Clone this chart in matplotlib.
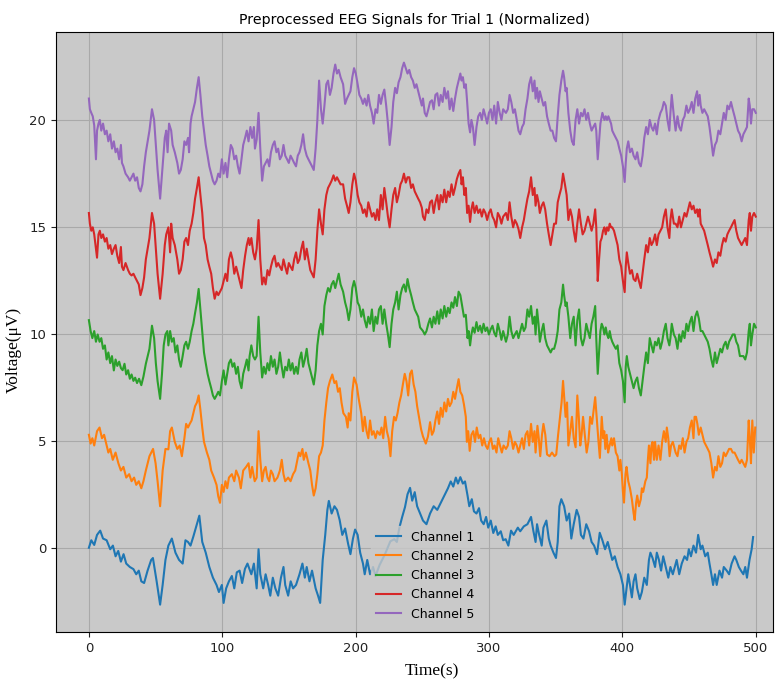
import matplotlib
matplotlib.use("Agg")
import matplotlib.pyplot as plt

# (time, normalized voltage) samples per channel; each channel sits on its own 5 uV baseline
CH1 = [(0,0.0),(1.8,0.35),(4,0.13),(6.1,0.6),(8.5,0.8),(10.6,0.43),(13.3,0.35),(16,-0.07),(18,0.1),(20,-0.4),(22,-0.15),(24,-0.65),(26,-0.3),(28,-0.74),(30.7,-0.9),(33.4,-1.0),(35.5,-1.24),(37.4,-1.07),(39.3,-1.57),(41.4,-1.65),(44,-1.07),(46.7,-0.57),(48,-0.48),(50.8,-1.57),(53.4,-2.66),(55.3,-1.74),(57.4,-0.57),(59.6,0.1),(62.2,0.43),(64.9,-0.23),(67.6,-0.57),(70.3,-0.74),(72.4,0.35),(74.3,0.27),(76.2,0.1),(78.3,0.52),(81,1.1),(82.8,1.5),(85,0.27),(87.6,-0.23),(90.3,-0.9),(93,-1.4),(95.7,-1.74),(97.5,-2.07),(99.7,-1.74),(101,-2.58),(102.9,-1.9),(105,-1.57),(107.2,-1.32),(109,-1.9),(110.9,-1.15),(113,-1.07),(114.9,-1.65),(117,-0.99),(118.9,-0.74),(121.8,-1.24),(123.7,-0.74),(125.8,-1.9),(127.2,-0.07),(128.5,-1.24),(130.7,-1.9),(132.5,-1.24),(134.4,-1.74),(136,-2.24),(137.9,-1.4),(139.8,-1.9),(141.9,-2.24),(144,-1.4),(145.9,-0.9),(147.2,-1.74),(149.4,-2.24),(151.3,-1.57),(153.1,-1.9),(155.3,-1.74),(157.9,-1.24),(160.1,-0.74),(161.9,-1.4),(163.3,-0.9),(165.4,-1.57),(167.3,-1.07),(170,-1.9),(171.8,-2.24),(173.4,-2.58),(175.3,-0.57),(177.2,0.6),(178.8,1.77),(179.9,2.19),(182,1.6),(184.1,1.94),(186,1.77),(188,1.3),(190,0.6),(192.1,0.9),(194.3,0.2),(196.1,-0.3),(198,0.43),(199.6,0.85),(201.5,0.6),(203.4,-0.23),(205.5,-0.74),(206.8,-1.24),(208.7,-0.57),(210.8,-1.24),(213,-0.9),(214.9,-1.32),(218,-0.8),(222,-0.3),(226,0.3),(229,0.4),(230.9,0.27),(232.8,0.94),(234.9,1.44),(237,1.9),(238.9,2.5),(240.8,2.8),(242.4,2.2),(244.3,2.6),(246.1,1.94),(248.3,1.6),(250.5,1.27),(253.1,1.1),(255.8,1.6),(258.5,1.94),(261.2,1.77),(263.8,2.1),(266.5,2.44),(269.2,2.78),(271.3,3.1),(273.2,2.86),(275.1,3.28),(276.7,3.0),(278.5,3.3),(280.4,3.0),(282,3.1),(283.9,2.44),(285.2,1.94),(287.1,2.27),(288.7,1.7),(290.6,1.6),(292.5,1.85),(294.1,1.27),(296,1.1),(297.8,1.44),(299.4,0.94),(301.3,1.27),(303.2,0.69),(305,1.0),(306.6,0.6),(308.8,0.77),(310.6,0.35),(312.5,0.4),(314.5,0.1),(316.5,0.8),(318.5,0.6),(321.6,0.94),(323.4,0.77),(326.1,1.0),(328.8,1.1),(331.5,1.44),(333.3,0.77),(334.9,0.27),(336,1.1),(337.6,0.6),(339.5,0.1),(340.8,0.94),(343,1.27),(344.8,0.43),(346.2,0.1),(348.3,-0.23),(350.2,-0.48),(351.5,0.27),(352.8,1.94),(354.2,2.27),(356.3,1.94),(358.2,1.27),(360.1,1.6),(361.7,0.43),(363.5,1.1),(365.7,1.77),(367.5,1.44),(368.9,0.6),(370.8,0.43),(372.9,1.1),(375,0.77),(376.9,0.27),(378.8,0.1),(381,-0.3),(383,0.7),(385,0.35),(387,-0.07),(389,0.27),(391,-0.23),(392.4,-0.57),(394.3,-0.4),(396.4,-0.9),(398.5,-1.24),(400.4,-1.74),(401.7,-2.66),(403.1,-1.9),(404.4,-1.24),(405.7,-1.74),(407.1,-2.32),(408.4,-1.57),(409.8,-1.24),(411.1,-1.9),(413,-2.4),(414.6,-2.07),(416.4,-1.4),(418.3,-1.74),(419.9,-0.57),(421,-0.23),(422.6,-0.48),(424.5,-0.9),(425.8,-0.23),(427.4,-0.57),(429,-1.07),(430.6,-0.4),(432.5,-0.9),(434.4,-1.4),(436,-0.9),(437.8,-1.24),(440.7,-0.57),(442.6,-1.24),(444.5,-0.74),(446.6,-0.4),(448.5,-0.57),(449.8,-0.07),(451.4,-0.4),(453.3,0.1),(455.2,-0.23),(456.8,0.6),(458.7,-0.07),(460,0.1),(462.1,-0.4),(464,-0.23),(465.3,-0.74),(466.7,-1.24),(468,-1.74),(469.4,-1.24),(470.7,-1.74),(472.8,-1.07),(474.7,-1.4),(476,-0.9),(478.2,-1.07),(480,-1.24),(481.9,-0.74),(484.1,-0.4),(485.4,-0.57),(487.3,-0.9),(488.9,-1.07),(490.7,-1.24),(492.1,-0.9),(493.4,-1.4),(495.3,-0.57),(496.9,-0.07),(498,0.5)]

CH2 = [(0,5.28),(1.3,4.87),(2.6,5.12),(4,4.78),(6.1,5.45),(8,5.62),(9.8,5.12),(11.4,5.28),(13.3,4.78),(14.6,4.45),(16,4.62),(17.9,4.11),(20,4.45),(22.1,3.95),(24,3.61),(25.9,3.78),(28,3.28),(30.2,3.44),(32,3.11),(33.9,3.28),(35.5,2.94),(37.4,3.11),(39.3,2.78),(40.9,3.11),(42.7,3.61),(45.4,4.28),(48.1,4.62),(50,3.95),(51.5,3.11),(53.4,1.94),(55.3,3.61),(57.4,4.62),(59.6,4.6),(60.9,5.45),(62.2,5.62),(64.4,4.95),(66.3,4.62),(68.1,4.78),(69.7,4.28),(71.6,5.12),(72.9,5.79),(74.3,5.62),(75.6,5.79),(77,5.95),(78.3,6.29),(79.6,6.62),(81,6.79),(82.3,7.12),(83.6,6.45),(85,5.62),(86.3,4.95),(88.5,4.45),(90.3,4.11),(91.7,3.61),(93.8,3.28),(95.7,2.94),(97,2.4),(98.3,2.1),(99.7,2.94),(101,2.61),(102.4,3.11),(103.7,2.78),(105,3.28),(107.2,3.44),(109,3.11),(110.4,3.61),(112.5,3.28),(113.9,2.78),(115.7,3.61),(117.9,3.78),(119.7,3.95),(121.1,3.28),(122.4,3.78),(124.3,3.11),(125.8,3.28),(127.2,5.45),(128.5,4.11),(129.9,3.11),(131.2,3.61),(132.5,3.78),(133.9,3.28),(135.2,3.11),(136.5,3.61),(137.9,3.44),(139.2,3.11),(141.4,3.28),(143.2,3.61),(144.6,4.11),(145.9,3.44),(147.2,3.11),(149.4,3.28),(151.2,3.11),(153.1,3.44),(154.7,3.61),(155.8,3.95),(157.4,4.45),(158.5,4.28),(160.1,4.62),(161.1,4.11),(162.7,4.45),(164.6,3.95),(166,3.61),(167.3,2.94),(168.6,2.44),(170,2.78),(171.3,3.44),(172.6,4.28),(174,4.45),(175.3,4.78),(176.6,5.95),(178,6.79),(179.3,7.46),(180.7,7.79),(182.5,8.1),(184.1,7.7),(185.4,7.79),(186.8,7.29),(188.1,7.46),(189.4,6.79),(190.8,6.29),(192.7,6.12),(194,5.62),(194.8,6.29),(196.1,5.95),(197.5,7.29),(198.8,7.96),(200.7,7.63),(202.3,6.96),(204.2,6.29),(205.5,5.45),(206.8,6.12),(208.2,5.45),(209.5,5.12),(210.8,5.95),(212.2,5.28),(213.5,5.45),(214.9,5.12),(216.2,5.45),(218.1,5.28),(219.4,5.62),(220.7,5.12),(222.1,6.12),(223.4,5.45),(224.7,5.12),(226.1,4.28),(227.4,5.45),(228.8,6.12),(230.1,5.95),(231.4,6.29),(232.8,6.79),(234.1,7.12),(235.4,7.63),(236.8,8.13),(238.1,7.79),(239.4,7.12),(240.8,8.13),(242.1,8.29),(243.5,7.63),(244.8,7.29),(246.1,6.62),(247.5,6.12),(249.1,5.53),(250.5,5.2),(252.6,4.87),(254.2,5.2),(255.8,5.87),(257.2,5.28),(258.5,5.45),(259.8,5.95),(261.2,6.37),(262.5,5.79),(263.8,6.54),(265.2,6.12),(266.5,6.79),(267.9,6.37),(269.2,6.96),(270.5,6.62),(271.9,6.79),(273.2,7.29),(274.5,6.96),(275.9,7.46),(277.2,7.88),(278.5,7.29),(279.9,7.12),(281.2,6.7),(282.6,6.12),(283.4,4.95),(284.4,5.45),(285.5,4.53),(286.8,5.28),(288.2,5.45),(289.5,4.95),(290.8,5.62),(292.2,5.12),(293.5,5.28),(294.9,4.78),(296.2,5.12),(297.5,4.78),(298.9,4.62),(300.2,4.95),(301.5,5.12),(302.9,4.62),(304.2,4.78),(305.6,4.45),(306.9,5.12),(308.2,4.78),(309.6,4.45),(310.9,4.78),(312.7,4.62),(314.1,4.78),(315.4,5.45),(316.7,5.12),(318.1,4.62),(319.4,4.95),(320.8,4.78),(322.1,4.45),(323.4,4.78),(324.8,5.12),(326.1,4.62),(327.4,5.28),(328.8,5.45),(330.1,4.78),(331.5,5.79),(332.8,4.95),(334.1,5.45),(334.9,4.45),(336.3,5.7),(337.3,5.12),(338.4,4.28),(339.7,5.28),(340.8,5.79),(342.2,5.28),(343.5,4.36),(345.4,4.28),(347.2,4.45),(349.1,4.28),(350.4,4.36),(351.8,5.28),(353.1,6.04),(354.4,6.79),(355.5,7.8),(356.3,7.12),(357.4,6.12),(358.5,6.79),(359.5,4.78),(360.9,5.45),(362.2,6.12),(363.5,5.12),(364.9,4.7),(366.2,7.12),(367.3,6.12),(368.4,4.78),(369.4,5.28),(370.5,6.12),(371.8,5.28),(373.2,4.45),(374.5,4.95),(375.8,6.12),(377.2,5.79),(378.5,6.45),(379.6,7.04),(380.7,6.12),(382,5.03),(383.1,4.2),(384.5,6.12),(385.6,5.12),(386.4,5.45),(387.2,4.62),(388.2,5.28),(389.3,4.45),(390.4,4.78),(391.7,5.12),(392.4,4.78),(393.7,5.12),(395.1,4.45),(396.4,4.28),(397.7,3.61),(398.5,4.11),(399.6,3.44),(400.4,2.61),(401.2,2.11),(402.3,3.44),(403.1,3.78),(404.4,3.11),(405.7,2.78),(407.1,2.27),(408.4,1.61),(409.2,1.3),(410.3,2.11),(411.1,2.44),(412.4,1.94),(413.8,2.27),(414.6,2.78),(415.6,2.61),(417.2,3.11),(418.3,3.28),(419.1,4.11),(419.9,4.78),(421,3.95),(421.8,4.78),(422.6,4.95),(423.7,4.11),(424.5,4.95),(425.8,4.11),(427.1,4.78),(428.5,4.11),(429.8,4.95),(431.1,5.45),(432.5,4.95),(433.3,5.62),(434.4,5.12),(435.4,4.28),(436.5,4.78),(437.8,4.95),(439.9,4.45),(441.3,4.28),(442.6,4.78),(443.9,4.62),(445.3,5.12),(446.6,4.45),(448,4.95),(449.3,5.12),(450.6,5.62),(452,5.95),(453.3,5.12),(454.1,6.12),(455.2,6.12),(456.2,5.79),(457.3,5.28),(458.7,5.62),(460,5.28),(461.3,4.95),(462.7,4.78),(464,4.62),(465.3,4.45),(466.7,3.95),(468,3.28),(469.4,3.78),(470.7,3.61),(472,4.28),(473.4,3.78),(474.7,3.95),(476,4.45),(477.4,4.28),(478.7,4.45),(480,4.62),(481.4,4.62),(482.7,4.45),(484.1,4.45),(485.4,4.28),(486.7,4.11),(488.1,3.95),(489.4,4.11),(490.7,3.95),(492.1,3.78),(493.4,4.11),(494.7,5.95),(495.5,5.12),(496.4,3.95),(497.4,5.95),(498.5,4.45),(499.6,5.62)]

CH3 = [(0,10.64),(1.3,10.13),(2.6,9.8),(4,10.13),(5.3,9.63),(6.6,9.97),(8,9.63),(9.3,9.8),(10.6,9.3),(12,9.46),(13.3,8.8),(14.6,9.13),(16,8.63),(17.3,8.96),(18.7,8.29),(20,8.8),(21.3,8.5),(22.7,8.7),(24,8.4),(25.3,8.3),(26.7,8.6),(28,8.1),(29.4,8.3),(30.7,7.9),(32,8.1),(33.4,7.8),(34.7,7.95),(36.1,7.7),(37.6,7.9),(39.3,7.6),(40.9,8.0),(42.7,8.6),(45.4,9.3),(47.3,10.38),(48.9,9.8),(50.2,8.63),(51.5,7.79),(53.4,6.96),(54.8,8.13),(56.1,9.46),(57.4,9.97),(58.8,10.13),(59.6,9.46),(60.9,10.13),(62.2,9.63),(63.6,9.8),(64.9,9.13),(66.3,9.46),(67.6,8.8),(68.9,8.46),(70.3,8.96),(71.6,9.46),(72.9,9.63),(74.3,9.3),(75.6,9.63),(77,10.13),(78.3,10.47),(79.6,10.97),(81,11.47),(82.3,12.1),(83.6,11.14),(85,10.13),(86.3,9.13),(87.6,8.63),(89,8.13),(90.3,7.79),(91.7,7.46),(93,7.12),(94.3,6.96),(95.7,7.12),(97,7.29),(98.3,7.12),(99.7,7.79),(101,8.29),(102.4,7.63),(103.7,8.13),(105,8.63),(106.4,8.8),(107.7,8.46),(109,8.63),(110.4,8.13),(111.7,8.46),(113,7.79),(114.4,7.46),(115.7,8.13),(117.1,8.46),(118.4,8.8),(119.7,8.29),(120.5,8.96),(121.8,9.46),(123.2,8.96),(124.5,8.8),(125.8,8.96),(127.2,10.8),(128.5,9.13),(129.9,7.96),(131.2,8.46),(132.5,8.13),(133.9,8.63),(135.2,8.29),(136.5,8.96),(137.9,8.46),(139.2,8.8),(140.6,8.13),(141.9,8.46),(143.2,9.13),(144.6,8.46),(145.9,7.96),(147.2,8.46),(148.6,8.29),(149.9,8.8),(151.2,8.29),(152.6,8.63),(153.9,8.13),(155.3,8.46),(156.6,8.13),(157.9,8.8),(159.3,9.13),(160.6,8.46),(161.9,8.8),(163.3,9.3),(164.6,8.63),(166,8.29),(167.3,7.96),(168.6,7.63),(170,8.29),(171.3,9.46),(172.6,10.13),(174,10.47),(175.3,9.97),(176.6,11.3),(178,11.81),(179.3,12.14),(180.7,11.97),(182,12.31),(183.4,12.47),(184.7,12.14),(186,12.47),(187.3,12.81),(188.7,12.31),(190.6,11.97),(192.1,11.47),(193.5,11.14),(194.8,10.64),(196.1,11.14),(197.5,12.14),(198.8,12.47),(200.1,12.14),(201.5,11.47),(202.8,11.3),(204.2,10.8),(205.5,11.14),(206.8,10.64),(208.2,10.3),(209.5,10.8),(210.8,10.47),(212.2,11.14),(213.5,10.13),(214.9,10.8),(216.2,10.47),(217.5,11.14),(218.9,11.3),(220.2,10.47),(221.5,11.14),(222.9,10.47),(224.2,9.97),(225.5,9.38),(226.9,10.47),(228.2,11.14),(229.6,11.47),(230.9,11.97),(232.2,11.14),(233.6,11.81),(234.9,12.14),(236.2,12.31),(237.6,11.97),(238.9,12.56),(240.2,12.14),(241.6,11.81),(242.9,11.47),(244.3,11.14),(245.6,10.97),(246.9,10.8),(248.3,10.3),(250.5,10.13),(251.8,9.97),(253.1,10.13),(254.5,10.47),(255.8,10.72),(257.2,10.3),(258.5,10.8),(259.8,10.47),(261.2,11.05),(262.5,10.47),(263.8,11.14),(265.2,10.72),(266.5,11.3),(267.9,10.8),(269.2,11.22),(270.5,10.97),(271.9,11.47),(273.2,11.22),(274.5,11.72),(275.9,11.3),(277.2,11.97),(278.5,11.81),(279.9,11.3),(281.2,10.8),(282.6,10.89),(283.9,9.8),(284.7,10.13),(285.8,9.46),(286.8,9.97),(287.9,10.3),(289.2,10.05),(290.6,10.55),(291.9,10.13),(293.3,10.38),(294.6,10.05),(295.9,10.47),(297.3,10.13),(298.6,10.3),(299.9,9.97),(301.3,10.22),(302.6,10.38),(303.9,10.05),(305.3,9.88),(306.6,10.47),(308,10.13),(309.3,9.72),(310.6,10.13),(312.7,9.63),(314.1,9.97),(315.4,10.8),(316.7,10.13),(318.1,9.8),(319.4,9.97),(320.8,10.13),(322.1,9.8),(323.4,10.13),(324.8,10.47),(326.1,10.13),(327.4,10.3),(328.8,11.14),(330.1,10.8),(331.5,11.3),(332.8,10.47),(334.1,10.8),(334.9,9.97),(336,11.14),(337.1,10.47),(338.1,9.63),(339.5,10.13),(340.8,10.47),(342.1,9.8),(343.5,9.46),(344.8,9.3),(346.2,9.13),(347.5,9.3),(348.8,9.3),(350.2,9.63),(351.5,10.13),(352.8,11.14),(354.2,11.47),(355.5,12.3),(356.3,11.81),(357.4,11.3),(358.2,11.47),(359.5,10.8),(360.9,9.8),(362.2,10.47),(363.5,10.8),(364.9,9.46),(366.2,10.64),(367.5,11.14),(368.9,9.8),(370.2,9.46),(371.6,9.8),(372.9,10.47),(374.2,10.13),(375.6,9.8),(376.9,10.47),(378.2,10.8),(379.6,11.3),(380.4,9.8),(381.5,8.13),(382.5,9.13),(383.5,10.13),(384.5,10.47),(385.5,10.3),(386.5,9.97),(387.5,10.3),(388.5,9.97),(389.5,9.8),(390.5,10.13),(391.5,9.8),(392.4,9.63),(393.7,9.46),(395.1,9.3),(396.4,9.46),(397.7,8.63),(399.1,8.29),(400.4,7.79),(401.7,6.8),(402.5,8.46),(403.3,8.96),(404.4,8.46),(405.7,8.13),(407.1,7.79),(408.4,7.46),(409.8,7.79),(411.1,7.96),(412.4,7.46),(413.8,7.12),(415.1,7.79),(416.4,8.46),(417.8,9.13),(419.1,8.63),(420.5,9.8),(421.8,9.46),(423.1,9.13),(424.5,9.63),(425.8,9.46),(427.1,9.8),(428.5,9.3),(429.8,9.63),(431.1,10.13),(432.5,10.47),(433.8,9.8),(435.2,9.46),(436,9.8),(437,10.47),(438.6,9.97),(439.9,9.8),(441.3,9.3),(442.6,9.97),(443.9,9.63),(445.3,10.13),(446.6,9.8),(448,10.47),(449.3,10.13),(450.6,10.55),(452,10.8),(453.3,10.13),(454.6,10.8),(456,11.05),(457.3,10.72),(458.7,10.13),(460,10.13),(461.3,9.97),(462.7,9.8),(464,9.63),(465.3,9.3),(466.7,8.8),(468,8.46),(469.4,9.13),(470.7,8.63),(472,8.96),(473.4,9.3),(474.7,9.13),(476,9.46),(477.4,9.63),(478.7,9.3),(480,9.63),(481.4,9.8),(482.7,9.97),(484.1,9.97),(485.4,9.63),(486.7,9.46),(488.1,8.96),(489.4,8.96),(490.7,8.96),(492.1,8.8),(493.4,9.13),(494.7,10.13),(495.5,10.47),(496.4,9.46),(497.4,9.97),(498.7,10.47),(500,10.3)]

CH4 = [(0,15.65),(0.75,15.15),(1.8,14.82),(2.9,14.98),(4,14.65),(5,14.15),(6.1,13.56),(7.2,14.65),(8.2,14.82),(9.3,14.48),(10.6,14.65),(12,14.31),(13.3,14.48),(14.6,13.98),(16,14.15),(17.3,13.73),(18.7,13.98),(20,14.15),(21.3,13.65),(22.7,13.31),(24,14.06),(24.8,13.14),(25.9,12.98),(27.5,13.31),(29.4,12.98),(30.7,12.81),(32,12.73),(33.4,12.81),(34.7,12.64),(36.1,12.47),(37.4,12.31),(38.7,11.81),(40.1,12.14),(41.4,12.64),(42.7,13.48),(45.4,14.48),(47.3,15.65),(48.9,15.15),(50.2,13.98),(51.5,12.81),(53.4,11.64),(55.3,12.81),(56.9,14.15),(58,14.65),(59.6,14.98),(60.9,13.81),(61.7,15.15),(62.8,14.48),(64.4,14.15),(66.3,13.48),(67.6,12.81),(68.9,12.98),(70.3,13.48),(71.6,14.31),(72.9,14.48),(74.3,14.15),(75.6,14.82),(77,15.15),(78.3,15.65),(79.6,16.32),(81,16.82),(82.3,17.32),(83.6,16.49),(85,15.65),(86.3,14.48),(87.6,14.15),(89,13.48),(90.3,13.14),(91.7,12.81),(93,12.14),(94.3,11.64),(95.7,11.97),(97,11.81),(98.3,11.97),(99.7,12.14),(101,12.47),(102.4,12.81),(103.7,12.47),(105,13.48),(106.4,13.81),(107.7,13.48),(109,12.81),(110.4,13.14),(111.7,12.81),(113,12.47),(114.4,12.14),(115.7,12.98),(117.1,13.65),(118.4,14.15),(119.7,14.48),(120.5,14.15),(121.8,14.48),(123.2,13.81),(124.5,13.48),(125.8,13.98),(127.2,15.32),(128.5,13.48),(129.9,12.31),(131.2,12.64),(132.5,12.31),(133.9,12.98),(135.2,12.73),(136.5,13.14),(137.9,13.48),(139.2,13.65),(140.6,13.14),(141.9,13.31),(143.2,13.14),(144.6,12.98),(145.9,13.48),(147.2,13.14),(148.6,12.81),(149.9,13.31),(151.2,13.14),(152.6,12.98),(153.9,13.48),(155.3,13.81),(156.6,13.31),(157.9,13.48),(159.3,13.98),(160.6,14.31),(161.9,13.48),(163.3,13.98),(164.6,13.48),(166,12.98),(167.3,12.81),(168.6,12.64),(170,13.48),(171.3,14.82),(172.6,15.82),(174,15.15),(175.3,14.65),(176.6,15.82),(178,16.49),(179.3,16.82),(180.7,16.99),(182,17.16),(183.4,17.41),(184.7,17.16),(186,17.32),(187.3,17.16),(188.7,16.99),(190.6,16.99),(192.1,16.32),(193.5,15.99),(194.8,15.65),(196.1,16.15),(197.5,16.99),(198.8,17.49),(200.1,17.16),(201.5,16.49),(202.8,16.15),(204.2,15.99),(205.5,15.65),(206.8,15.82),(208.2,15.48),(209.5,16.15),(210.8,15.82),(212.2,15.48),(213.5,15.65),(214.9,15.32),(216.2,15.82),(217.5,15.32),(218.9,16.49),(220.2,15.82),(221.5,16.82),(222.9,16.15),(224.2,15.48),(225.5,14.98),(226.9,15.82),(228.2,16.49),(229.6,16.82),(230.9,16.15),(232.2,16.49),(233.6,16.99),(234.9,17.16),(236.2,17.49),(237.6,17.07),(238.9,17.32),(240.2,17.32),(241.6,16.82),(242.9,16.99),(244.3,16.66),(245.6,16.49),(246.9,16.32),(248.3,16.15),(249.6,15.9),(250.5,15.48),(251.8,15.32),(253.1,15.82),(254.5,15.65),(255.8,16.15),(257.2,16.24),(258.5,15.65),(259.8,16.15),(261.2,16.49),(262.5,15.82),(263.8,16.49),(265.2,16.15),(266.5,16.74),(267.9,16.15),(269.2,16.66),(270.5,16.4),(271.9,16.99),(273.2,16.49),(274.5,16.82),(275.9,17.24),(277.2,17.49),(278.5,17.66),(279.4,16.99),(280.4,17.32),(281.5,16.49),(282.6,16.82),(283.6,15.65),(284.7,15.99),(285.8,15.23),(286.8,15.82),(287.9,16.15),(289.2,15.65),(290.6,15.99),(291.9,15.65),(293.3,15.82),(294.6,15.48),(295.9,15.82),(297.3,15.65),(298.6,15.32),(299.9,15.65),(301.3,15.82),(302.6,15.48),(303.9,15.32),(305.3,14.98),(306.6,15.65),(308,15.48),(309.3,15.15),(310.6,15.48),(312.7,15.65),(314.1,15.32),(315.4,16.15),(316.7,15.48),(318.1,14.98),(319.4,15.32),(320.8,15.15),(322.1,14.9),(323.4,14.48),(324.8,14.98),(326.1,15.32),(327.4,15.82),(328.8,16.32),(330.1,16.66),(331.5,17.32),(332.8,16.49),(334.1,16.82),(334.9,15.99),(336,16.49),(337.1,16.15),(338.1,15.65),(339.5,15.99),(340.8,16.15),(342.1,15.82),(343.5,15.15),(344.8,14.65),(346.2,14.15),(347.5,14.65),(348.8,15.15),(350.2,15.15),(351.5,16.15),(352.8,16.49),(354.2,16.82),(355.5,17.49),(356.9,16.99),(358.2,16.49),(359.5,15.32),(360.9,15.82),(362.2,15.48),(363.5,14.82),(364.9,14.31),(366.2,15.15),(367.5,15.82),(368.9,15.15),(370.2,14.65),(371.6,14.82),(372.9,15.15),(374.2,15.48),(375.6,15.15),(376.9,14.82),(378.2,15.15),(379.6,15.82),(380.4,14.98),(381.5,12.47),(382.5,13.48),(383.5,14.31),(384.5,14.48),(385.5,14.82),(386.5,14.98),(387.5,14.65),(388.5,14.98),(389.5,14.82),(390.5,15.15),(391.5,14.98),(392.4,14.98),(393.7,14.82),(395.1,14.48),(396.4,14.15),(397.7,13.48),(399.1,13.14),(400.4,12.47),(401.7,11.95),(402.5,13.14),(403.3,13.81),(404.4,13.31),(405.7,12.81),(407.1,12.98),(408.4,12.56),(409.8,12.47),(411.1,12.81),(412.4,12.47),(413.8,12.14),(415.1,12.81),(416.4,13.48),(417.8,14.15),(419.1,13.81),(420.5,14.48),(421.8,14.15),(423.1,14.31),(424.5,14.65),(425.8,14.15),(427.1,14.65),(428.5,14.82),(429.8,14.98),(431.1,15.48),(432.5,15.82),(433.8,14.98),(435.2,14.48),(436,15.32),(437,15.82),(438.6,15.15),(439.9,15.15),(441.3,14.98),(442.6,15.48),(443.9,14.98),(445.3,15.32),(446.6,15.65),(448,15.48),(449.3,15.82),(450.6,16.15),(452,15.82),(453.3,15.99),(454.6,15.65),(456,15.82),(456.8,15.48),(457.9,15.82),(458.7,15.15),(460,14.98),(461.3,14.82),(462.7,14.48),(464,14.15),(465.3,13.81),(466.7,13.48),(468,13.14),(469.4,13.48),(470.7,13.31),(472,13.81),(473.4,13.65),(474.7,14.15),(476,14.48),(477.4,14.31),(478.7,14.65),(480,14.82),(481.4,14.98),(482.7,15.15),(484.1,15.32),(485.4,14.82),(486.7,14.48),(488.1,14.31),(489.4,14.15),(490.7,14.31),(492.1,14.48),(493.4,14.15),(494.7,15.32),(495.5,15.65),(496.4,14.82),(497.4,15.48),(498.7,15.65),(500,15.48)]

CH5 = [(0,21.0),(0.75,20.5),(1.8,20.33),(2.9,20.17),(4,19.75),(5.3,18.16),(6.1,19.5),(7.2,19.83),(8.2,20.0),(9.3,19.5),(10.6,19.83),(12,19.33),(13.3,19.5),(14.6,19.0),(16,19.33),(17.3,18.66),(18.7,19.0),(20,18.49),(21.3,18.66),(22.7,18.16),(24,18.83),(24.8,17.99),(25.9,17.83),(27.5,17.49),(29.4,17.32),(30.7,17.16),(32,17.32),(33.4,17.49),(34.7,17.16),(36.1,17.32),(37.4,16.82),(38.7,16.66),(40.1,16.99),(41.4,17.83),(42.7,18.49),(45.4,19.5),(47.3,20.5),(48.9,20.0),(50.2,18.83),(51.5,17.66),(53.4,16.32),(55.3,17.83),(56.9,19.16),(58,19.5),(59,18.49),(60.1,19.83),(61.7,19.5),(62.8,18.83),(64.4,18.49),(66.3,17.99),(67.6,17.49),(68.9,17.66),(70.3,18.16),(71.6,19.0),(72.9,18.83),(74.3,19.16),(75.1,18.49),(76.2,19.83),(77,20.17),(78.3,20.5),(79.6,20.84),(81,21.5),(82.3,22.0),(83.6,21.17),(85,20.17),(86.3,19.5),(87.6,18.83),(89,18.33),(90.3,17.83),(91.7,17.49),(93,17.16),(94.3,16.99),(95.7,17.16),(97,17.49),(98.3,17.32),(99.7,18.16),(101,17.49),(102.4,17.99),(103.7,17.32),(105,18.16),(106.4,18.83),(107.7,18.66),(109,18.16),(110.4,18.33),(111.7,17.83),(113,17.49),(114.4,18.16),(115.7,18.83),(117.1,19.16),(118.4,19.5),(119.7,19.0),(121.1,19.67),(122.4,19.16),(123.7,19.67),(124.5,18.66),(125.8,19.08),(127.2,20.33),(128.5,18.66),(129.9,17.16),(131.2,17.83),(132.5,17.99),(133.9,18.16),(135.2,17.83),(136.5,18.49),(137.9,18.83),(139.2,19.0),(140.6,18.49),(141.9,18.66),(143.2,18.16),(144.6,18.33),(145.9,18.83),(147.2,18.33),(148.6,18.16),(149.9,17.99),(151.2,18.33),(152.6,18.16),(153.9,17.99),(155.3,17.83),(156.6,18.33),(157.9,18.49),(159.3,18.83),(160.6,19.33),(161.9,18.66),(163.3,18.33),(164.6,18.16),(166,17.99),(167.3,17.83),(168.6,17.66),(170,18.66),(171.3,20.0),(172.6,21.84),(174,20.5),(175.3,19.83),(176.6,20.67),(178,21.67),(179.3,21.84),(180.7,21.17),(182,21.5),(183.4,22.17),(184.7,22.59),(186,22.17),(187.3,22.34),(188.7,22.0),(190.6,21.67),(192.1,20.75),(193.5,21.0),(194.8,21.17),(196.1,21.34),(197.5,22.0),(198.8,22.42),(200.1,22.17),(201.5,21.67),(202.8,21.17),(204.2,21.0),(205.5,20.75),(206.8,21.0),(208.2,20.67),(209.5,21.17),(210.8,20.67),(212.2,20.33),(213.5,19.83),(214.9,20.5),(216.2,20.33),(217.5,21.17),(218.9,20.75),(220.2,21.17),(221.5,21.42),(222.9,20.67),(224.2,19.83),(225.5,18.83),(226.9,19.67),(228.2,20.84),(229.6,21.5),(230.9,21.25),(232.2,21.76),(233.6,22.0),(234.9,22.42),(236.2,22.68),(237.6,22.42),(238.9,22.17),(240.2,22.34),(241.6,22.0),(242.9,21.84),(244.3,21.5),(245.6,21.67),(246.9,21.34),(248.3,21.0),(249.6,20.67),(250.5,21.0),(251.8,20.33),(253.1,20.17),(254.5,20.5),(255.8,20.84),(257.2,20.92),(258.5,20.5),(259.8,21.17),(261.2,21.25),(262.5,20.67),(263.8,21.17),(265.2,20.84),(266.5,21.5),(267.9,21.0),(269.2,21.34),(270.5,20.5),(271.9,21.0),(273.2,20.42),(274.5,21.0),(275.9,21.5),(277.2,21.84),(278.5,22.17),(279.4,21.84),(280.4,22.0),(281.5,21.5),(282.6,21.67),(283.6,20.84),(284.7,19.83),(285.8,19.42),(286.8,20.0),(287.9,19.67),(289.2,18.83),(290.6,19.67),(291.9,20.17),(293.3,20.33),(294.6,20.0),(295.9,20.5),(297.3,20.17),(298.6,19.83),(299.9,20.33),(301.3,20.5),(302.6,20.0),(303.9,20.67),(305.3,19.83),(306.6,20.84),(308,20.33),(309.3,20.0),(310.6,20.5),(312.7,20.33),(314.1,20.5),(315.4,21.17),(316.7,20.84),(318.1,20.33),(319.4,20.5),(320.8,20.0),(322.1,19.5),(323.4,19.33),(324.8,19.67),(326.1,19.83),(327.4,20.5),(328.8,21.0),(330.1,21.67),(331.5,22.0),(332.8,21.34),(334.1,21.84),(334.9,21.0),(336,21.5),(337.1,20.84),(338.1,21.34),(339.5,21.0),(340.8,20.67),(342.1,20.84),(343.5,20.17),(344.8,19.83),(346.2,19.5),(347.5,19.5),(348.8,19.16),(350.2,19.0),(351.5,20.17),(352.8,21.17),(354.2,21.84),(355.5,22.3),(356.3,22.0),(357.4,21.34),(358.2,21.5),(359.5,20.33),(360.9,19.5),(362.2,19.0),(363.5,18.83),(364.9,20.0),(366.2,20.5),(367.5,19.83),(368.9,20.33),(370.2,20.17),(371.6,20.5),(372.9,20.0),(374.2,20.33),(375.6,19.83),(376.9,19.5),(378.2,19.67),(379.6,19.83),(380.4,19.5),(381.5,18.16),(382.5,19.0),(383.5,19.83),(385,20.33),(386.5,20.0),(387.5,20.17),(388.5,20.0),(389.5,20.17),(390.5,20.0),(391.5,19.83),(392.4,19.5),(393.7,19.33),(395.1,19.16),(396.4,19.0),(397.7,18.66),(399.1,18.33),(400.4,17.83),(401.7,17.1),(402.5,17.99),(403.3,18.66),(404.4,19.0),(405.7,18.49),(407.1,18.66),(408.4,18.33),(409.8,18.16),(411.1,18.49),(412.4,17.99),(413.8,17.83),(415.1,18.33),(416.4,19.16),(417.8,19.67),(419.1,19.33),(420.5,20.0),(421.8,19.67),(423.1,19.5),(424.5,19.83),(425.8,19.33),(427.1,20.0),(428.5,20.33),(429.8,20.5),(431.1,20.84),(432.5,20.67),(433.8,20.0),(435.2,19.5),(436,20.33),(437,21.17),(438.6,20.17),(439.9,19.5),(441.3,20.17),(442.6,19.67),(443.9,19.5),(445.3,20.0),(446.6,20.17),(448,20.67),(449.3,20.33),(450.6,20.5),(452,20.84),(453.3,20.33),(454.6,21.0),(456,21.34),(456.8,20.67),(457.9,21.17),(458.7,20.67),(460,20.33),(461.3,20.5),(462.7,20.33),(464,20.17),(465.3,19.67),(466.7,19.0),(468,18.33),(469.4,18.83),(470.7,19.0),(472,19.5),(473.4,19.33),(474.7,19.83),(476,20.33),(477.4,20.0),(478.7,20.67),(480,20.5),(481.4,20.84),(482.7,20.5),(484.1,20.17),(485.4,19.83),(486.7,19.5),(488.1,19.33),(489.4,19.0),(490.7,19.33),(492.1,19.5),(493.4,19.67),(494.7,21.0),(495.5,20.67),(496.4,19.83),(497.4,20.5),(498.7,20.5),(500,20.33)]

CHANNELS = [CH1, CH2, CH3, CH4, CH5]
LABELS = ["Channel 1", "Channel 2", "Channel 3", "Channel 4", "Channel 5"]
XTICKS = [0, 100, 200, 300, 400, 500]
YTICKS = [0, 5, 10, 15, 20]

fig = plt.figure(figsize=(7.77, 6.86), dpi=100)
ax = fig.add_axes([0.072, 0.079, 0.923, 0.874])
ax.set_facecolor("#c9c9c9")

for samples, label in zip(CHANNELS, LABELS):
    t = [p[0] for p in samples]
    v = [p[1] for p in samples]
    ax.plot(t, v, linewidth=1.5, label=label)

ax.set_xlim(-24.7, 513)
ax.set_ylim(-3.93, 24.1)
ax.set_xticks(XTICKS)
ax.set_yticks(YTICKS)
ax.tick_params(labelsize=9.5, colors="#222222")
ax.grid(True, color="#a9a9a9", linewidth=0.8)
ax.set_axisbelow(True)

ax.set_title("Preprocessed EEG Signals for Trial 1 (Normalized)", fontsize=10.2,
             family="DejaVu Sans", pad=6)
ax.set_xlabel("Time(s)", fontsize=12.5, family="Liberation Serif")
ax.set_ylabel("Voltage(\u03bcV)", fontsize=12.5, family="Liberation Serif")
ax.xaxis.set_label_coords(0.524, -0.052)
ax.yaxis.set_label_coords(-0.047, 0.47)

leg = ax.legend(loc="lower center", bbox_to_anchor=(0.515, 0.0), fontsize=9,
                frameon=True, facecolor="#c9c9c9", edgecolor="#c9c9c9", framealpha=0.8)

fig.savefig("out.png", dpi=100)
